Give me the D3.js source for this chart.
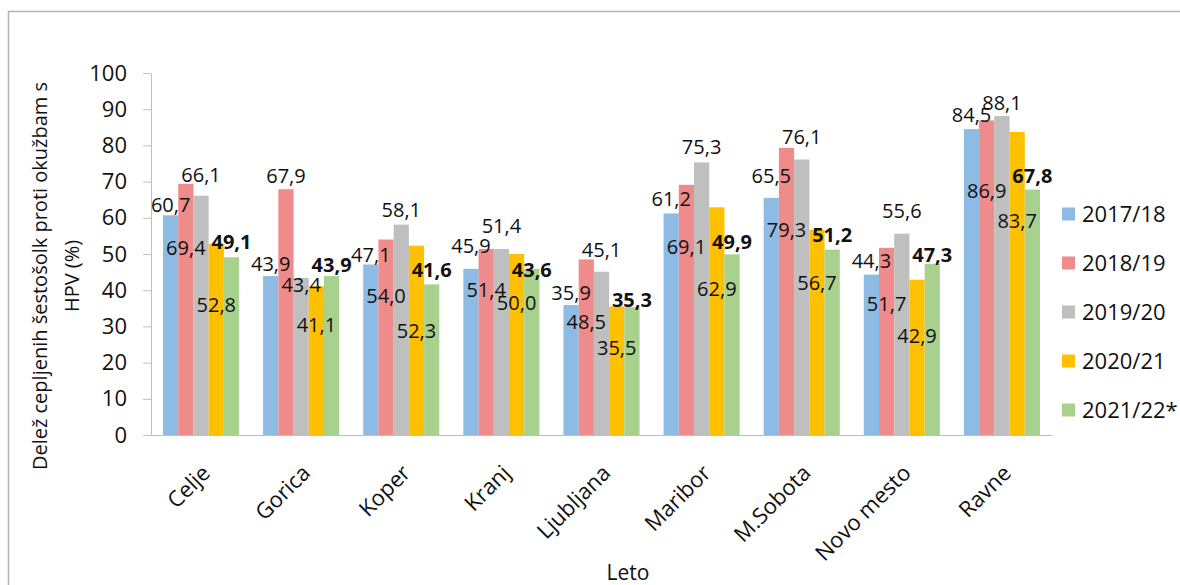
<!DOCTYPE html>
<html>
<head>
<meta charset="utf-8">
<script src="https://cdn.jsdelivr.net/npm/d3@7"></script>
<style>
  body { margin: 0; background: #fff; }
  svg { font-family: "Open Sans", sans-serif; }
  .axis path, .axis line { stroke: #bfbfbf; }
</style>
</head>
<body>
<div id="chart"></div>
<script>
// data
var categories = ['Celje', 'Gorica', 'Koper', 'Kranj', 'Ljubljana', 'Maribor', 'M.Sobota', 'Novo mesto', 'Ravne'];
var seriesNames = ['2017/18', '2018/19', '2019/20', '2020/21', '2021/22*'];
var v2017 = [60.7, 43.9, 47.1, 45.9, 35.9, 61.2, 65.5, 44.3, 84.5];
var v2018 = [69.4, 67.9, 54.0, 51.4, 48.5, 69.1, 79.3, 51.7, 86.9];
var v2019 = [66.1, 43.4, 58.1, 51.4, 45.1, 75.3, 76.1, 55.6, 88.1];
var v2020 = [52.8, 41.1, 52.3, 50.0, 35.5, 62.9, 56.7, 42.9, 83.7];
var v2021 = [49.1, 43.9, 41.6, 45.9, 35.3, 49.9, 51.2, 47.3, 67.8];
// the data labels in the original were dragged around; level (in %) where each one sits
var lab2017 = [61.7, 45.4, 47.9, 50.2, 37.3, 63.3, 69.5, 46.0, 86.5];
var lab2018 = [49.7, 69.5, 36.5, 38.2, 29.2, 50.0, 54.6, 34.3, 65.4];
var lab2019 = [70.0, 39.6, 60.3, 55.7, 49.3, 77.6, 80.3, 59.9, 89.8];
var lab2020 = [34.1, 28.5, 26.9, 34.5, 22.1, 38.4, 40.1, 25.3, 57.1];
var lab2021 = [51.3, 45.1, 43.7, 43.7, 35.4, 51.3, 53.4, 47.9, 69.5];
// label text that differs from the drawn bar
var labelText = {'Kranj|2021/22*': '43,6'};
var yTicks = [0, 10, 20, 30, 40, 50, 60, 70, 80, 90, 100];

var values = [v2017, v2018, v2019, v2020, v2021];
var levels = [lab2017, lab2018, lab2019, lab2020, lab2021];
var colors = ['#8ebbe3', '#ef8b8b', '#bfbfbf', '#ffc000', '#a9d18e'];

var width = 1180;
var height = 585;
var margin = {left: 151, right: 128, top: 73, bottom: 150};

var svg = d3.select('#chart')
    .append('svg')
    .attr('width', width)
    .attr('height', height);

// outer chart frame (only top and left edges are visible in the crop)
svg.append('path')
    .attr('d', 'M8.5,' + height + 'V11.5H' + width)
    .attr('fill', 'none')
    .attr('stroke', '#b4b4b4')
    .attr('stroke-width', 1.5);

var x = d3.scaleBand()
    .domain(categories)
    .range([margin.left, width - margin.right])
    .paddingInner(0.24)
    .paddingOuter(0.12);

var xSub = d3.scaleBand()
    .domain(seriesNames)
    .range([0, x.bandwidth()]);

var y = d3.scaleLinear()
    .domain([0, 100])
    .range([height - margin.bottom, margin.top]);

var color = d3.scaleOrdinal(seriesNames, colors);

// y axis
var yAxis = svg.append('g')
    .attr('class', 'axis')
    .attr('transform', 'translate(' + margin.left + ',0)')
    .call(d3.axisLeft(y).tickValues(yTicks).tickSize(8).tickPadding(16).tickSizeOuter(0));
yAxis.selectAll('text')
    .style('font-size', '22px')
    .style('font-family', '"Open Sans", sans-serif')
    .attr('fill', '#111');

// x axis
var xAxis = svg.append('g')
    .attr('class', 'axis')
    .attr('transform', 'translate(0,' + y(0) + ')')
    .call(d3.axisBottom(x).tickSize(0).tickSizeOuter(0));
xAxis.selectAll('text')
    .style('font-size', '22px')
    .style('font-family', '"Open Sans", sans-serif')
    .attr('fill', '#111')
    .attr('text-anchor', 'end')
    .attr('dy', '0.35em')
    .attr('y', 0)
    .attr('transform', 'translate(5,34) rotate(-45)');

// bars
var groups = svg.selectAll('.cat')
    .data(categories)
    .enter()
    .append('g')
    .attr('class', 'cat')
    .attr('transform', function (d) {return 'translate(' + x(d) + ',0)';});

groups.selectAll('rect')
    .data(function (d, i) {
        return seriesNames.map(function (s, j) {
            return {cat: d, series: s, value: values[j][i], level: levels[j][i]};
        });
    })
    .enter()
    .append('rect')
    .attr('x', function (d) {return xSub(d.series);})
    .attr('y', function (d) {return y(d.value);})
    .attr('width', xSub.bandwidth())
    .attr('height', function (d) {return y(0) - y(d.value);})
    .attr('fill', function (d) {return color(d.series);});

// data labels
groups.selectAll('.lbl')
    .data(function (d, i) {
        return seriesNames.map(function (s, j) {
            return {cat: d, series: s, value: values[j][i], level: levels[j][i], bold: j === 4};
        });
    })
    .enter()
    .append('text')
    .attr('class', 'lbl')
    .attr('x', function (d) {return xSub(d.series) + xSub.bandwidth() / 2;})
    .attr('y', function (d) {return y(d.level);})
    .attr('text-anchor', 'middle')
    .style('font-size', '20px')
    .style('font-weight', function (d) {return d.bold ? 'bold' : 'normal';})
    .attr('fill', '#111')
    .text(function (d) {
        return labelText[d.cat + '|' + d.series] || d.value.toFixed(1).replace('.', ',');
    });

// axis titles
svg.append('text')
    .attr('transform', 'translate(40,' + 276 + ') rotate(-90)')
    .attr('text-anchor', 'middle')
    .style('font-size', '20px')
    .attr('fill', '#111')
    .selectAll('tspan')
    .data(['Delež cepljenih šestošolk proti okužbam s', 'HPV (%)'])
    .enter()
    .append('tspan')
    .attr('x', 0)
    .attr('dy', function (d, i) {return i === 0 ? '0.35em' : '32px';})
    .text(function (d) {return d;});

svg.append('text')
    .attr('x', 628)
    .attr('y', 580)
    .attr('text-anchor', 'middle')
    .style('font-size', '21px')
    .attr('fill', '#111')
    .text('Leto');

// legend
var legendSize = 13;
var legendSpacing = 49;
var legend = svg.selectAll('.legend')
    .data(seriesNames)
    .enter()
    .append('g')
    .attr('class', 'legend')
    .attr('transform', function (d, i) {
        return 'translate(1062,' + (214 + i * legendSpacing) + ')';
    });

legend.append('rect')
    .attr('y', -legendSize / 2)
    .attr('width', legendSize)
    .attr('height', legendSize)
    .attr('fill', color);

legend.append('text')
    .attr('x', 20)
    .attr('dy', '0.36em')
    .style('font-size', '22px')
    .attr('fill', '#111')
    .text(function (d) {return d;});
</script>
</body>
</html>
